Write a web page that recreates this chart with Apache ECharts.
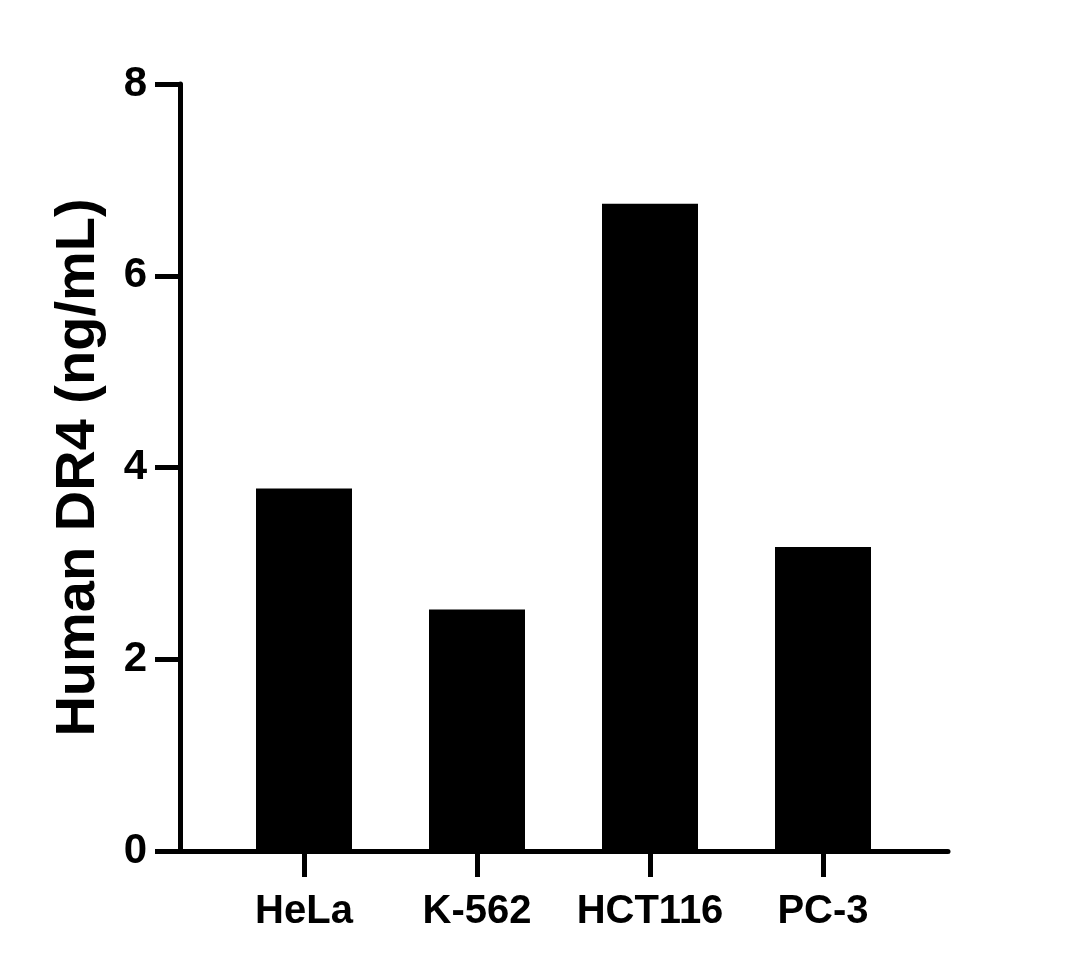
<!DOCTYPE html>
<html>
<head>
<meta charset="utf-8">
<title>Human DR4</title>
<script src="https://cdn.jsdelivr.net/npm/echarts@6/dist/echarts.min.js"></script>
<style>
  html, body { margin: 0; padding: 0; background: #fff; }
  #main { width: 1086px; height: 968px; }
</style>
</head>
<body>
<div id="main"></div>
<script>
// cell lines and measured DR4 (ng/mL)
var categories = ['HeLa', 'K-562', 'HCT116', 'PC-3'];
var dr4Values = [3.78, 2.52, 6.75, 3.17];
// y axis range
var yMin = 0;
var yMax = 8;
var yStep = 2;

var chart = echarts.init(document.getElementById('main'));
var font = 'Liberation Sans, Arial, sans-serif';

var option = {
  backgroundColor: '#fff',
  animation: false,
  grid: [
    // outer grid: holds the y axis and the long x axis line
    { left: 180, right: 138, top: 84, bottom: 117 },
    // inner grid: the categories sit here
    { left: 217.5, right: 176.5, top: 84, bottom: 117 }
  ],
  xAxis: [
    {
      gridIndex: 0,
      type: 'value',
      min: 0,
      max: 1,
      z: 5,
      axisLine: { show: true, lineStyle: { color: '#000', width: 5 } },
      axisTick: { show: false },
      axisLabel: { show: false },
      splitLine: { show: false }
    },
    {
      gridIndex: 1,
      type: 'category',
      data: categories,
      boundaryGap: true,
      z: 5,
      axisLine: { show: false },
      axisTick: {
        show: true,
        interval: 0,
        alignWithLabel: true,
        length: 26,
        lineStyle: { color: '#000', width: 5 }
      },
      axisLabel: {
        interval: 0,
        color: '#000',
        fontFamily: font,
        fontWeight: 'bold',
        fontSize: 40,
        margin: 41
      }
    }
  ],
  yAxis: [
    {
      gridIndex: 0,
      type: 'value',
      min: yMin,
      max: yMax,
      interval: yStep,
      z: 5,
      name: 'Human DR4 (ng/mL)',
      nameLocation: 'middle',
      nameGap: 73,
      nameTextStyle: {
        color: '#000',
        fontFamily: font,
        fontWeight: 'bold',
        fontSize: 56
      },
      axisLine: { show: true, lineStyle: { color: '#000', width: 5 } },
      axisTick: { show: true, length: 25, lineStyle: { color: '#000', width: 5 } },
      axisLabel: {
        color: '#000',
        fontFamily: font,
        fontWeight: 'bold',
        fontSize: 42,
        margin: 33
      },
      splitLine: { show: false }
    },
    {
      gridIndex: 1,
      type: 'value',
      min: yMin,
      max: yMax,
      show: false
    }
  ],
  series: [{
    name: 'DR4',
    type: 'bar',
    xAxisIndex: 1,
    yAxisIndex: 1,
    barWidth: 96,
    itemStyle: { color: '#000' },
    data: dr4Values
  }]
};
chart.setOption(option);
</script>
</body>
</html>
